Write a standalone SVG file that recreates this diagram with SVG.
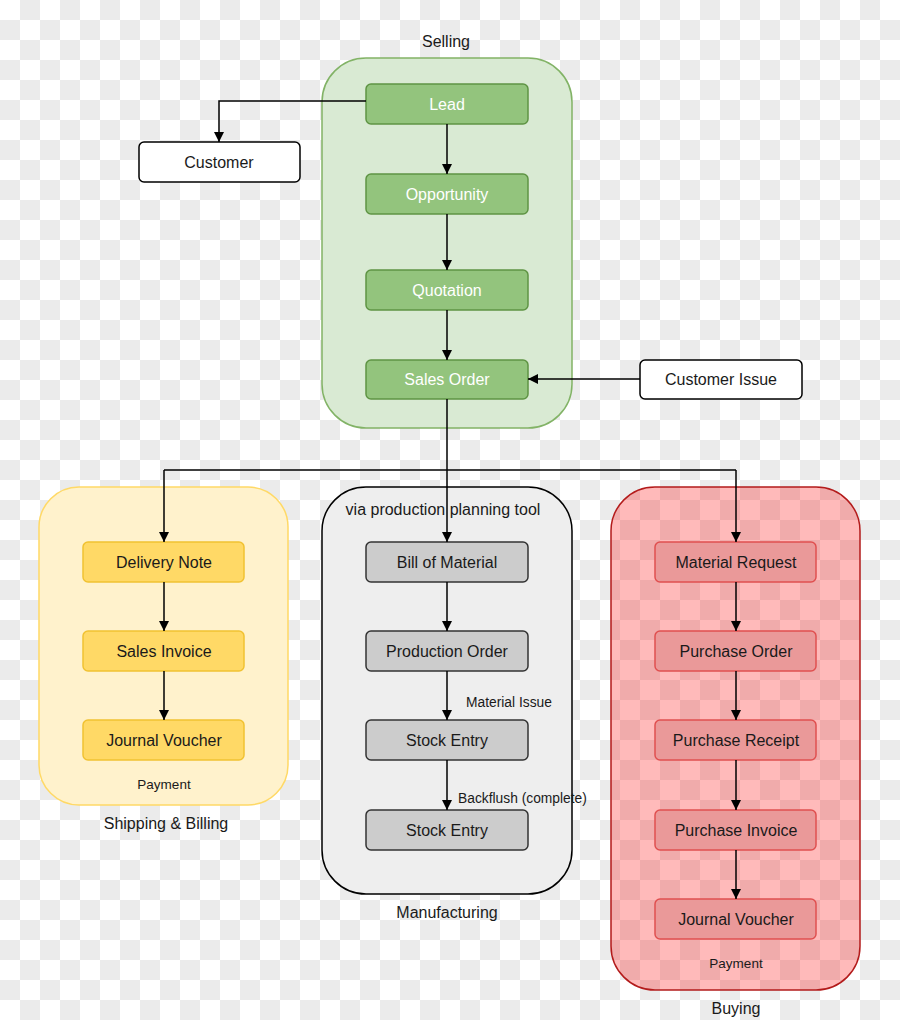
<svg xmlns="http://www.w3.org/2000/svg" width="900" height="1020" viewBox="0 0 900 1020">
<defs>
<pattern id="checker" width="40" height="40" patternUnits="userSpaceOnUse">
<rect width="40" height="40" fill="#ffffff"/>
<rect x="20" y="0" width="20" height="20" fill="#ebebeb"/>
<rect x="0" y="20" width="20" height="20" fill="#ebebeb"/>
</pattern>
<marker id="arr" viewBox="0 0 10 10" refX="10" refY="5" markerWidth="10" markerHeight="10" markerUnits="userSpaceOnUse" orient="auto">
<path d="M0,0 L10,5 L0,10 Z" fill="#000"/>
</marker>
<style>
text{font-family:"Liberation Sans",Arial,sans-serif;font-size:16px;fill:#1a1a1a;text-anchor:middle;dominant-baseline:central}
.small{font-size:13.5px}
.lbl{font-size:13.8px;text-anchor:start}
.white{fill:#ffffff}
.gnode{fill:#93c47d;stroke:#5f9444;stroke-width:1.5}
.ynode{fill:#ffd966;stroke:#f1c232;stroke-width:1.5}
.cnode{fill:#cccccc;stroke:#333333;stroke-width:1.5}
.rnode{fill:#ea9999;stroke:#e05050;stroke-width:1.5}
.wnode{fill:#ffffff;stroke:#000000;stroke-width:1.5}
.edge{fill:none;stroke:#000;stroke-width:1.5;marker-end:url(#arr)}
.line{fill:none;stroke:#000;stroke-width:1.5}
</style>
</defs>
<rect width="900" height="1020" fill="url(#checker)"/>

<g id="selling">
<rect x="322" y="58" width="250" height="370" rx="44" fill="#d9ead3" stroke="#82b366" stroke-width="1.5"/>
<text x="446" y="41">Selling</text>
</g>
<g id="shipping">
<rect x="39" y="487" width="249" height="318" rx="40" fill="#fff2cc" stroke="#ffd966" stroke-width="1.5"/>
<text x="166" y="823">Shipping &amp; Billing</text>
<text class="small" x="164" y="784">Payment</text>
</g>
<g id="manufacturing">
<rect x="322" y="487" width="250" height="407" rx="44" fill="#eeeeee" stroke="#000" stroke-width="1.5"/>
<text x="443" y="509">via production planning tool</text>
<text x="447" y="912">Manufacturing</text>
</g>
<g id="buying">
<rect x="611" y="487" width="249" height="503" rx="44" fill="#ff0000" fill-opacity="0.27" stroke="#b31b1b" stroke-width="1.5"/>
<text class="small" x="736" y="963">Payment</text>
<text x="736" y="1008">Buying</text>
</g>

<g id="lead"><rect class="gnode" x="366" y="84" width="162" height="40" rx="5"/><text class="white" x="447" y="104">Lead</text></g>
<g id="opportunity"><rect class="gnode" x="366" y="174" width="162" height="40" rx="5"/><text class="white" x="447" y="194">Opportunity</text></g>
<g id="quotation"><rect class="gnode" x="366" y="270" width="162" height="40" rx="5"/><text class="white" x="447" y="290">Quotation</text></g>
<g id="salesorder"><rect class="gnode" x="366" y="360" width="162" height="39" rx="5"/><text class="white" x="447" y="379">Sales Order</text></g>
<g id="customer"><rect class="wnode" x="139" y="142" width="161" height="40" rx="5"/><text x="219" y="162">Customer</text></g>
<g id="customerissue"><rect class="wnode" x="640" y="360" width="162" height="39" rx="5"/><text x="721" y="379">Customer Issue</text></g>

<g id="deliverynote"><rect class="ynode" x="83" y="542" width="161" height="40" rx="5"/><text x="164" y="562">Delivery Note</text></g>
<g id="salesinvoice"><rect class="ynode" x="83" y="631" width="161" height="40" rx="5"/><text x="164" y="651">Sales Invoice</text></g>
<g id="journalvoucher1"><rect class="ynode" x="83" y="720" width="161" height="40" rx="5"/><text x="164" y="740">Journal Voucher</text></g>

<g id="billofmaterial"><rect class="cnode" x="366" y="542" width="162" height="40" rx="5"/><text x="447" y="562">Bill of Material</text></g>
<g id="productionorder"><rect class="cnode" x="366" y="631" width="162" height="40" rx="5"/><text x="447" y="651">Production Order</text></g>
<g id="stockentry1"><rect class="cnode" x="366" y="720" width="162" height="40" rx="5"/><text x="447" y="740">Stock Entry</text></g>
<g id="stockentry2"><rect class="cnode" x="366" y="810" width="162" height="40" rx="5"/><text x="447" y="830">Stock Entry</text></g>

<g id="materialrequest"><rect class="rnode" x="655" y="542" width="161" height="40" rx="5"/><text x="736" y="562">Material Request</text></g>
<g id="purchaseorder"><rect class="rnode" x="655" y="631" width="161" height="40" rx="5"/><text x="736" y="651">Purchase Order</text></g>
<g id="purchasereceipt"><rect class="rnode" x="655" y="720" width="161" height="40" rx="5"/><text x="736" y="740">Purchase Receipt</text></g>
<g id="purchaseinvoice"><rect class="rnode" x="655" y="810" width="161" height="40" rx="5"/><text x="736" y="830">Purchase Invoice</text></g>
<g id="journalvoucher2"><rect class="rnode" x="655" y="899" width="161" height="40" rx="5"/><text x="736" y="919">Journal Voucher</text></g>

<g id="connectors">
<path class="edge" d="M366,101 H219 V142"/>
<path class="edge" d="M447,124 V174"/>
<path class="edge" d="M447,214 V270"/>
<path class="edge" d="M447,310 V360"/>
<path class="edge" d="M640,379 H528"/>
<path class="line" d="M447,399 V470"/>
<path class="line" d="M164,470 H736"/>
<path class="edge" d="M164,470 V542"/>
<path class="edge" d="M447,470 V542"/>
<path class="edge" d="M736,470 V542"/>
<path class="edge" d="M164,582 V631"/>
<path class="edge" d="M164,671 V720"/>
<path class="edge" d="M447,582 V631"/>
<path class="edge" d="M447,671 V720"/>
<path class="edge" d="M447,760 V810"/>
<path class="edge" d="M736,582 V631"/>
<path class="edge" d="M736,671 V720"/>
<path class="edge" d="M736,760 V810"/>
<path class="edge" d="M736,850 V899"/>
<text class="lbl" x="466" y="702">Material Issue</text>
<text class="lbl" x="458" y="798">Backflush (complete)</text>
</g>
</svg>
